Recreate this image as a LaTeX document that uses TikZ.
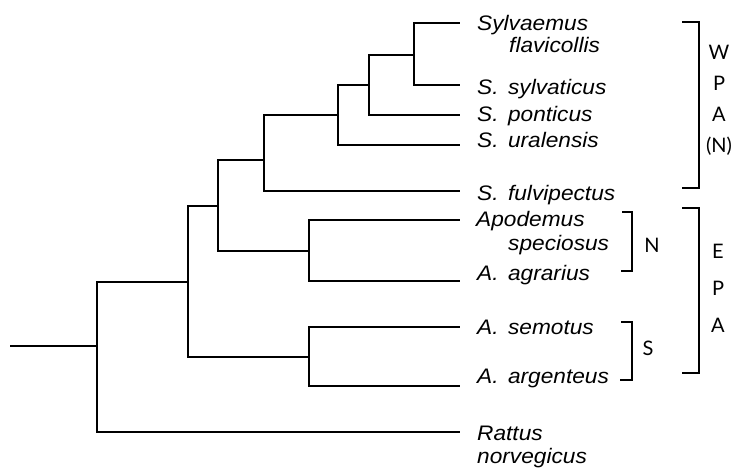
\documentclass[tikz,border=0pt]{standalone}
\usepackage{fontspec}
\newfontfamily\leaffont[FakeStretch=1.08]{Liberation Sans}
\newfontfamily\regfont{Lato}
\usepackage{tikz}
\newcommand{\spname}[2]{#1.\hspace{0.45em}#2}

\begin{document}
\begin{tikzpicture}[
  x=1pt, y=-1pt,
  branch/.style={line width=2pt},
  brk/.style={line width=1.9pt},
  leaf/.style={anchor=base west, inner sep=0pt,
               font=\leaffont\itshape\fontsize{21}{24}\selectfont},
  region/.style={inner sep=0pt, align=center,
                 font=\regfont\fontsize{20}{31}\selectfont},
]
\useasboundingbox (0,0) rectangle (739,471);

% ---- Junctions -------------------------------------------------------------
\coordinate (stub)  at (10,346);
\coordinate (root)  at (97,346);
\coordinate (nA)    at (188,282);
\coordinate (nB)    at (218,206);
\coordinate (nC)    at (309,357);
\coordinate (nD)    at (264,160);
\coordinate (nE)    at (309,251);
\coordinate (nF)    at (338,115);
\coordinate (nG)    at (369,85);
\coordinate (nH)    at (414,55);

% ---- Tips ------------------------------------------------------------------
\coordinate (tFla) at (460,23);
\coordinate (tSyl) at (460,85);
\coordinate (tPon) at (460,115);
\coordinate (tUra) at (460,145);
\coordinate (tFul) at (460,191);
\coordinate (tSpe) at (460,220);
\coordinate (tAgr) at (460,281);
\coordinate (tSem) at (460,327);
\coordinate (tArg) at (460,386);
\coordinate (tRat) at (460,432);

% ---- Branches --------------------------------------------------------------
\draw[branch] (stub) -- (root);
\draw[branch] (root) |- (nA);
\draw[branch] (root) |- (tRat);
\draw[branch] (nA) |- (nB);
\draw[branch] (nA) |- (nC);
\draw[branch] (nB) |- (nD);
\draw[branch] (nB) |- (nE);
\draw[branch] (nD) |- (nF);
\draw[branch] (nD) |- (tFul);
\draw[branch] (nF) |- (nG);
\draw[branch] (nF) |- (tUra);
\draw[branch] (nG) |- (nH);
\draw[branch] (nG) |- (tPon);
\draw[branch] (nH) |- (tFla);
\draw[branch] (nH) |- (tSyl);
\draw[branch] (nE) |- (tSpe);
\draw[branch] (nE) |- (tAgr);
\draw[branch] (nC) |- (tSem);
\draw[branch] (nC) |- (tArg);

% ---- Species labels --------------------------------------------------------
\node[leaf] (lFla)  at (477,30)  {Sylvaemus};
\node[leaf] (lFla2) at (509,52)  {flavicollis};
\node[leaf] (lSyl)  at (477,94)  {\spname{S}{sylvaticus}};
\node[leaf] (lPon)  at (477,121) {\spname{S}{ponticus}};
\node[leaf] (lUra)  at (477,147) {\spname{S}{uralensis}};
\node[leaf] (lFul)  at (477,200) {\spname{S}{fulvipectus}};
\node[leaf] (lSpe)  at (476,226) {Apodemus};
\node[leaf] (lSpe2) at (508,250) {speciosus};
\node[leaf] (lAgr)  at (477,280) {\spname{A}{agrarius}};
\node[leaf] (lSem)  at (477,334) {\spname{A}{semotus}};
\node[leaf] (lArg)  at (477,383) {\spname{A}{argenteus}};
\node[leaf] (lRat)  at (477,440) {Rattus};
\node[leaf] (lRat2) at (477,463) {norvegicus};

% ---- Brackets --------------------------------------------------------------
\coordinate (wTop) at (682,22);  \coordinate (wBot) at (682,188);
\coordinate (eTop) at (682,208); \coordinate (eBot) at (682,373);
\coordinate (nTop) at (622,212); \coordinate (nBot) at (621,271);
\coordinate (sTop) at (621,322); \coordinate (sBot) at (620,380);
\draw[brk] (wTop) -- ++(17,0) |- (wBot);
\draw[brk] (eTop) -- ++(17,0) |- (eBot);
\draw[brk] (nTop) -- ++(10,0) |- (nBot);
\draw[brk] (sTop) -- ++(11,0) |- (sBot);

% ---- Region letters --------------------------------------------------------
\node[region] (wpa) at (719,100) {W\\P\\A\\(N)};
\node[region] (epa) at (718,288) {E\\[6pt]P\\[6pt]A};
\node[region] (rN)  at (652,245) {N};
\node[region] (rS)  at (648,348) {S};

\end{tikzpicture}
\end{document}
